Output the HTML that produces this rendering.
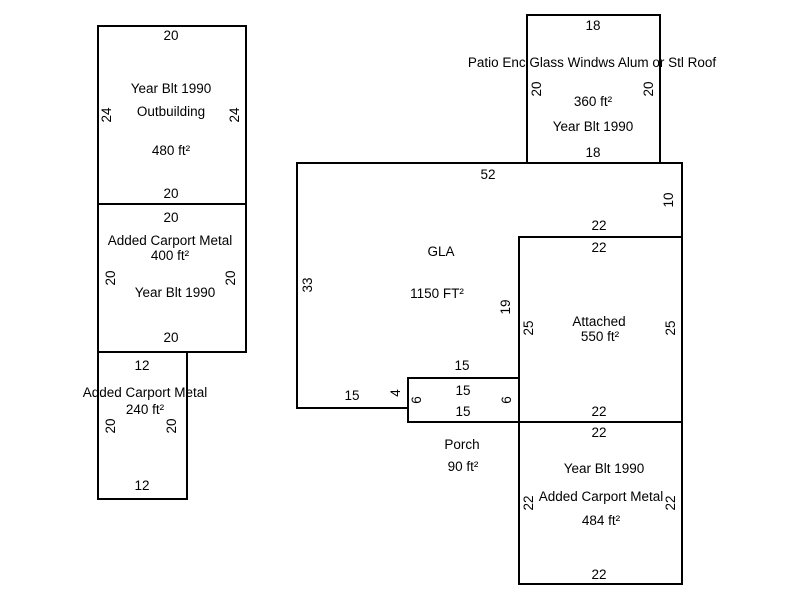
<!DOCTYPE html>
<html><head><meta charset="utf-8"><style>
html,body{margin:0;padding:0;background:#fff;width:800px;height:600px;overflow:hidden}
svg text{font-family:"Liberation Sans",Arial,sans-serif;font-size:13.5px;fill:#000}
</style></head><body>
<svg width="800" height="600" viewBox="0 0 800 600" xmlns="http://www.w3.org/2000/svg">
<g fill="none" stroke="#000" stroke-width="2">
<rect x="98" y="26" width="148" height="178"/>
<rect x="98" y="204" width="148" height="148"/>
<rect x="98" y="352" width="89" height="147"/>
<rect x="527" y="15" width="133" height="148"/>
<polygon points="297,163 682,163 682,237 519,237 519,378 408,378 408,408 297,408"/>
<rect x="519" y="237" width="163" height="185"/>
<rect x="408" y="378" width="111" height="44"/>
<rect x="519" y="422" width="163" height="162"/>
</g>
<g text-anchor="middle">
<text x="171" y="40">20</text>
<text x="171" y="93">Year Blt 1990</text>
<text x="171" y="116">Outbuilding</text>
<text x="171" y="155">480 ft²</text>
<text x="171" y="198">20</text>
<text x="171" y="222">20</text>
<text x="170" y="245">Added Carport Metal</text>
<text x="170" y="260">400 ft²</text>
<text x="175" y="297">Year Blt 1990</text>
<text x="171" y="342">20</text>
<text x="142" y="370">12</text>
<text x="145" y="397">Added Carport Metal</text>
<text x="145" y="414">240 ft²</text>
<text x="142" y="490">12</text>
<text x="593" y="30">18</text>
<text x="592" y="67">Patio Enc Glass Windws Alum or Stl Roof</text>
<text x="593" y="106">360 ft²</text>
<text x="593" y="131">Year Blt 1990</text>
<text x="593" y="157">18</text>
<text x="488" y="179">52</text>
<text x="599" y="230">22</text>
<text x="599" y="252">22</text>
<text x="441" y="256">GLA</text>
<text x="437" y="298">1150 FT²</text>
<text x="599" y="326">Attached</text>
<text x="600" y="341">550 ft²</text>
<text x="462" y="370">15</text>
<text x="463" y="395">15</text>
<text x="463" y="416">15</text>
<text x="352" y="400">15</text>
<text x="599" y="416">22</text>
<text x="599" y="437">22</text>
<text x="462" y="449">Porch</text>
<text x="463" y="471">90 ft²</text>
<text x="604" y="473">Year Blt 1990</text>
<text x="601" y="501">Added Carport Metal</text>
<text x="601" y="525">484 ft²</text>
<text x="599" y="579">22</text>
</g>
<g text-anchor="middle">
<text transform="translate(111,115) rotate(-90)">24</text>
<text transform="translate(239,115) rotate(-90)">24</text>
<text transform="translate(115,278) rotate(-90)">20</text>
<text transform="translate(235,278) rotate(-90)">20</text>
<text transform="translate(115,426) rotate(-90)">20</text>
<text transform="translate(176,426) rotate(-90)">20</text>
<text transform="translate(541,89) rotate(-90)">20</text>
<text transform="translate(653,89) rotate(-90)">20</text>
<text transform="translate(673,200) rotate(-90)">10</text>
<text transform="translate(312,285) rotate(-90)">33</text>
<text transform="translate(510,307) rotate(-90)">19</text>
<text transform="translate(533,328) rotate(-90)">25</text>
<text transform="translate(675,328) rotate(-90)">25</text>
<text transform="translate(400,393) rotate(-90)">4</text>
<text transform="translate(421,400) rotate(-90)">6</text>
<text transform="translate(511,400) rotate(-90)">6</text>
<text transform="translate(533,503) rotate(-90)">22</text>
<text transform="translate(675,503) rotate(-90)">22</text>
</g>
</svg>
</body></html>
